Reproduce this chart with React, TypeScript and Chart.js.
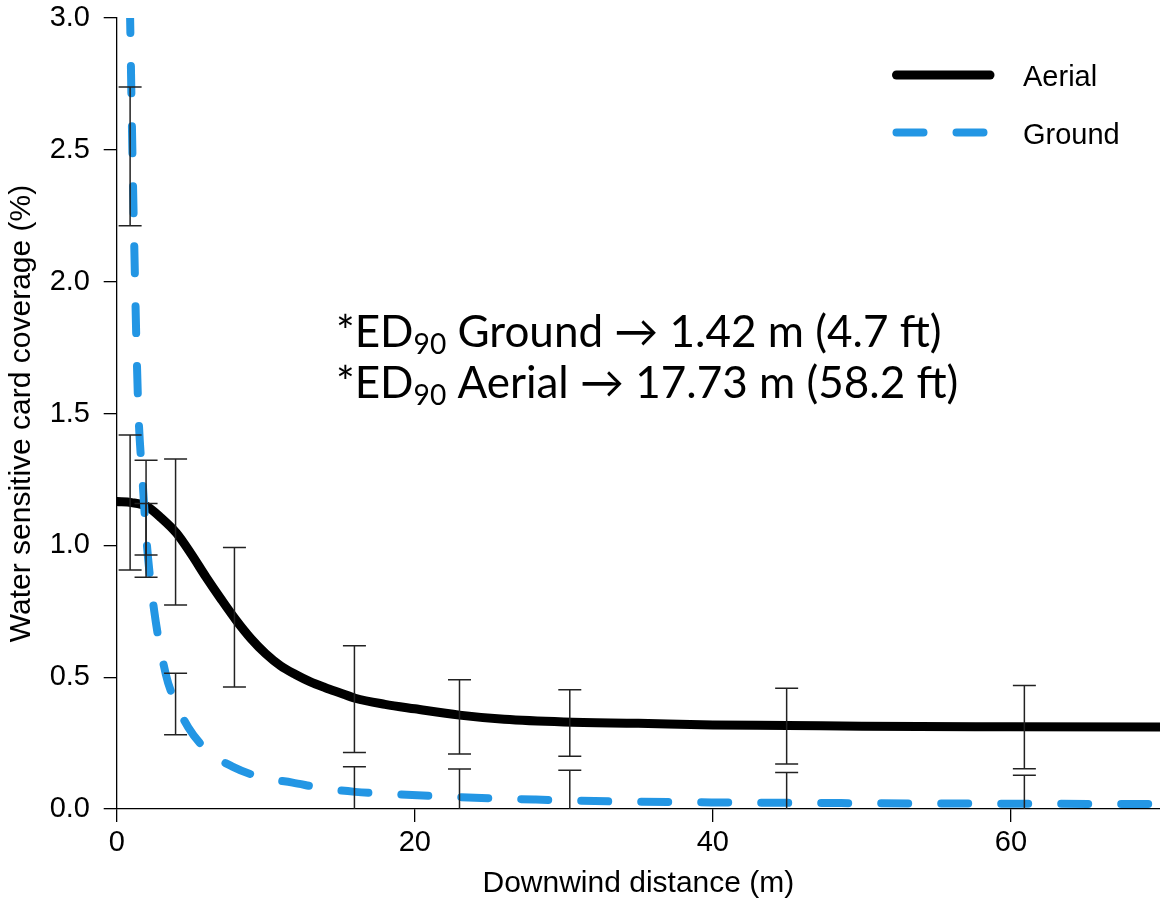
import React, { useEffect, useRef } from 'react';
import { Chart, registerables } from 'chart.js';

Chart.register(...registerables);

// Fitted dose-response curves (downwind distance in m, coverage in %)
const aerialDistance = [0, 1, 2, 3, 4, 5, 6, 7, 8, 9, 10, 11, 12, 13, 14, 15, 16, 18, 20, 23, 26, 30, 35, 40, 45, 50, 60, 70];
const aerialCoverage = [1.166, 1.162, 1.148, 1.103, 1.047, 0.967, 0.879, 0.796, 0.717, 0.647, 0.589, 0.543, 0.51, 0.482, 0.46, 0.44, 0.42, 0.397, 0.38, 0.356, 0.34, 0.33, 0.325, 0.319, 0.317, 0.314, 0.312, 0.311];

const groundDistance = [0.75, 0.9, 1.05, 1.23, 1.33, 1.46, 1.73, 2.03, 2.52, 3.3, 3.9, 4.8, 6.1, 7.8, 9.7, 11.8, 13.9, 16, 19, 23, 28, 33, 40, 50, 60, 70];
const groundCoverage = [3.5, 3.0, 2.5, 2.0, 1.75, 1.5, 1.25, 1.0, 0.75, 0.51, 0.41, 0.31, 0.22, 0.16, 0.12, 0.1, 0.078, 0.065, 0.055, 0.045, 0.036, 0.029, 0.025, 0.022, 0.02, 0.019];

// Observed card coverage ranges at each sampling station
const aerialBarDistance = [0.9, 1.97, 3.95, 7.9, 15.95, 23.0, 30.4, 44.95, 60.9];
const aerialBarHigh = [1.418, 1.323, 1.327, 0.992, 0.619, 0.49, 0.452, 0.458, 0.468];
const aerialBarLow = [0.906, 0.963, 0.774, 0.463, 0.214, 0.209, 0.2, 0.171, 0.153];

const groundBarDistance = [0.9, 1.97, 3.95, 15.95, 23.0, 30.4, 44.95, 60.9];
const groundBarHigh = [2.738, 1.159, 0.515, 0.16, 0.152, 0.147, 0.138, 0.128];
const groundBarLow = [2.212, 0.879, 0.282, -0.03, -0.06, -0.07, -0.08, -0.09];

const xTickValues = [0, 20, 40, 60];
const yTickValues = [0, 0.5, 1, 1.5, 2, 2.5, 3];

const seriesNames = ['Aerial', 'Ground'];

const noteLines = [
  [{ text: '*ED' }, { text: '90', sub: true }, { text: ' Ground \u2192 1.42 m (4.7 ft)' }],
  [{ text: '*ED' }, { text: '90', sub: true }, { text: ' Aerial \u2192 17.73 m (58.2 ft)' }],
];

const AXIS_FONT = '"Liberation Sans", Arial, sans-serif';
const NOTE_FONT = 'Lato, "Noto Sans", sans-serif';
const BLUE = '#2396e4';
const DASH = [27, 33];

const errorBarPlugin = {
  id: 'errorBars',
  afterDatasetsDraw(chart: any) {
    const { ctx, chartArea, scales } = chart;
    const xs = scales.x;
    const ys = scales.y;
    ctx.save();
    ctx.beginPath();
    ctx.rect(chartArea.left, chartArea.top, chartArea.right - chartArea.left, chartArea.bottom - chartArea.top);
    ctx.clip();
    ctx.strokeStyle = '#222';
    ctx.lineWidth = 1.5;
    const drawBars = (dist: number[], hi: number[], lo: number[]) => {
      dist.forEach((d, i) => {
        const px = xs.getPixelForValue(d);
        const yh = ys.getPixelForValue(hi[i]);
        const yl = ys.getPixelForValue(lo[i]);
        ctx.beginPath();
        ctx.moveTo(px, yh);
        ctx.lineTo(px, yl);
        ctx.moveTo(px - 11.5, yh);
        ctx.lineTo(px + 11.5, yh);
        ctx.moveTo(px - 11.5, yl);
        ctx.lineTo(px + 11.5, yl);
        ctx.stroke();
      });
    };
    drawBars(aerialBarDistance, aerialBarHigh, aerialBarLow);
    drawBars(groundBarDistance, groundBarHigh, groundBarLow);
    ctx.restore();
  },
};

const legendPlugin = {
  id: 'cornerLegend',
  afterDraw(chart: any) {
    const { ctx } = chart;
    const rows = [75, 132.5];
    ctx.save();
    chart.data.datasets.forEach((ds: any, i: number) => {
      const y = rows[i];
      ctx.beginPath();
      ctx.strokeStyle = ds.borderColor;
      ctx.lineWidth = ds.borderWidth;
      ctx.lineCap = 'round';
      ctx.setLineDash(ds.borderDash || []);
      ctx.moveTo(896.5, y);
      ctx.lineTo(990, y);
      ctx.stroke();
      ctx.setLineDash([]);
      ctx.fillStyle = '#000';
      ctx.font = `29px ${AXIS_FONT}`;
      ctx.textBaseline = 'alphabetic';
      ctx.textAlign = 'left';
      ctx.fillText(ds.label, 1023, y + 11);
    });
    ctx.restore();
  },
};

const notePlugin = {
  id: 'ed90Note',
  afterDraw(chart: any) {
    const { ctx } = chart;
    const size = 44;
    const baselines = [347, 398];
    ctx.save();
    ctx.fillStyle = '#000';
    ctx.textBaseline = 'alphabetic';
    ctx.textAlign = 'left';
    noteLines.forEach((parts, li) => {
      let cx = 336;
      parts.forEach((p: any) => {
        const fs = p.sub ? size * 0.64 : size;
        ctx.font = `${fs}px ${NOTE_FONT}`;
        const dy = p.sub ? size * 0.16 : 0;
        ctx.fillText(p.text, cx, baselines[li] + dy);
        cx += ctx.measureText(p.text).width;
      });
    });
    ctx.restore();
  },
};

export default function App() {
  const canvasRef = useRef<HTMLCanvasElement | null>(null);

  useEffect(() => {
    const canvas = canvasRef.current;
    if (!canvas) return;
    Chart.defaults.font.family = AXIS_FONT;
    Chart.defaults.color = '#000';

    const chart = new Chart(canvas, {
      type: 'line',
      data: {
        datasets: [
          {
            label: seriesNames[0],
            data: aerialDistance.map((x, i) => ({ x, y: aerialCoverage[i] })),
            borderColor: '#000',
            borderWidth: 9,
            borderCapStyle: 'butt',
            pointRadius: 0,
            cubicInterpolationMode: 'monotone',
            clip: 0,
            order: 2,
          },
          {
            label: seriesNames[1],
            data: groundDistance.map((x, i) => ({ x, y: groundCoverage[i] })),
            borderColor: BLUE,
            borderWidth: 8,
            borderDash: DASH,
            borderCapStyle: 'round',
            pointRadius: 0,
            cubicInterpolationMode: 'monotone',
            clip: 0,
            order: 1,
          },
        ],
      },
      options: {
        responsive: false,
        animation: false,
        devicePixelRatio: 1,
        layout: { padding: { top: 18, left: 0, right: 0, bottom: 0 } },
        plugins: {
          legend: { display: false },
          tooltip: { enabled: false },
        },
        scales: {
          x: {
            type: 'linear',
            min: 0,
            max: 70,
            afterBuildTicks: (s: any) => {
              s.ticks = xTickValues.map((v) => ({ value: v }));
            },
            afterFit: (s: any) => {
              s.height = 93;
              s.paddingLeft = 0;
              s.paddingRight = 0;
            },
            grid: { display: true, drawOnChartArea: false, drawTicks: true, tickLength: 13, color: '#000', lineWidth: 1.3 },
            border: { display: true, color: '#000', width: 1.3 },
            ticks: { font: { size: 29 }, padding: 4, maxRotation: 0, color: '#000', callback: (v: any) => String(v) },
            title: { display: true, text: 'Downwind distance (m)', font: { size: 30 }, padding: { top: 0, bottom: 0 }, color: '#000' },
          },
          y: {
            type: 'linear',
            min: 0,
            max: 3,
            afterBuildTicks: (s: any) => {
              s.ticks = yTickValues.map((v) => ({ value: v }));
            },
            afterFit: (s: any) => {
              s.width = 116.7;
              s.paddingTop = 0;
              s.paddingBottom = 0;
            },
            grid: { display: true, drawOnChartArea: false, drawTicks: true, tickLength: 13, color: '#000', lineWidth: 1.3 },
            border: { display: true, color: '#000', width: 1.3 },
            ticks: { font: { size: 29 }, padding: 13.7, color: '#000', callback: (v: any) => Number(v).toFixed(1) },
            title: { display: true, text: 'Water sensitive card coverage (%)', font: { size: 30 }, padding: { top: 4, bottom: 0 }, color: '#000' },
          },
        },
      },
      plugins: [errorBarPlugin, legendPlugin, notePlugin],
    } as any);

    return () => chart.destroy();
  }, []);

  return (
    <div style={{ position: 'fixed', left: 0, top: 0, width: 1160, height: 902, background: '#fff' }}>
      <canvas ref={canvasRef} width={1160} height={902} style={{ display: 'block', width: 1160, height: 902 }} />
    </div>
  );
}
